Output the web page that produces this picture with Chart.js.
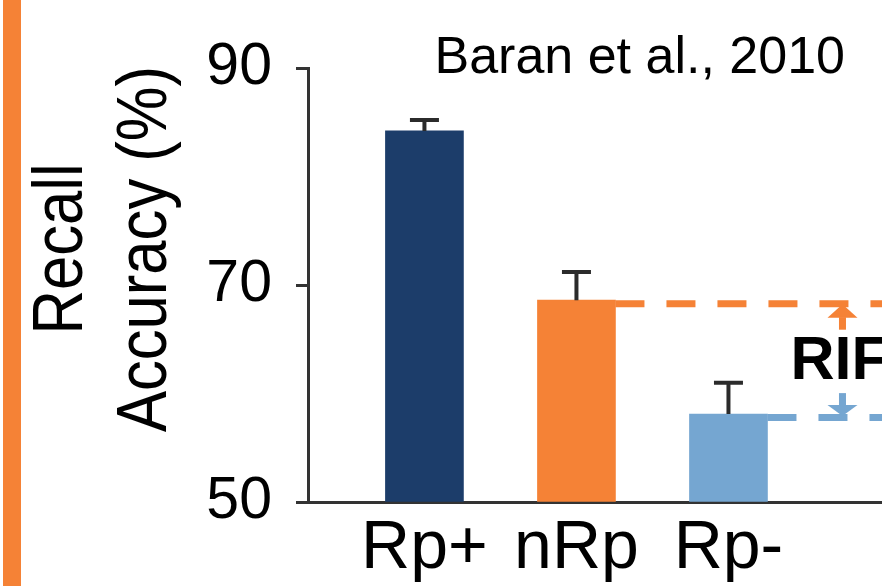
<!DOCTYPE html>
<html lang="en">
<head>
  <meta charset="UTF-8">
  <title>Recall accuracy</title>
  <script src="https://cdn.jsdelivr.net/npm/chart.js@4.4.1/dist/chart.umd.min.js"></script>
  <style>
    html, body { margin: 0; padding: 0; background: #fff; }
  </style>
</head>
<body>
  <canvas id="myChart" width="882" height="586"></canvas>
  <script>
    // data
    const categories = ['Rp+', 'nRp', 'Rp-']
    const positions = [1, 2, 3]
    const accuracy = [84.2, 68.6, 58.1]
    const errorTop = [85.2, 71.2, 61.0]
    const yTicks = [50, 70, 90]
    const barColors = ['#1c3d6a', '#f58236', '#75a6d1']

    const FONT = '"Liberation Sans", Arial, Helvetica, sans-serif'
    const ORANGE = '#f58236'
    const rifX = 3.75 // where the RIF arrows sit, in x units

    const overlay = {
      id: 'overlay',
      beforeDraw(chart) {
        const ctx = chart.ctx
        ctx.save()
        ctx.fillStyle = ORANGE
        ctx.fillRect(3, 0, 18, chart.height)
        ctx.restore()
      },
      afterDatasetsDraw(chart) {
        const ctx = chart.ctx
        const y = chart.scales.y
        const x = chart.scales.x
        const area = chart.chartArea
        const bars = chart.getDatasetMeta(0).data
        ctx.save()

        // error bars
        ctx.strokeStyle = '#2b2b2b'
        ctx.lineWidth = 4
        bars.forEach((el, i) => {
          const top = y.getPixelForValue(errorTop[i])
          ctx.beginPath()
          ctx.moveTo(el.x, el.y)
          ctx.lineTo(el.x, top)
          ctx.moveTo(el.x - 14.5, top)
          ctx.lineTo(el.x + 14.5, top)
          ctx.stroke()
        })

        // dashed reference lines from nRp and Rp-
        ctx.lineWidth = 7
        ctx.setLineDash([29, 22])
        ;[1, 2].forEach(i => {
          const el = bars[i]
          const ly = el.y + 3.5
          ctx.strokeStyle = barColors[i]
          ctx.beginPath()
          ctx.moveTo(el.x + el.width / 2, ly)
          ctx.lineTo(area.right + 20, ly)
          ctx.stroke()
        })
        ctx.setLineDash([])

        // arrows
        const ax = x.getPixelForValue(rifX)
        const yN = bars[1].y
        const yR = bars[2].y
        ctx.fillStyle = barColors[1]
        ctx.beginPath()
        ctx.moveTo(ax, yN + 4)
        ctx.lineTo(ax + 15, yN + 17.5)
        ctx.lineTo(ax - 15, yN + 17.5)
        ctx.closePath()
        ctx.fill()
        ctx.fillRect(ax - 3.5, yN + 17, 7, 12.5)

        ctx.fillStyle = barColors[2]
        ctx.beginPath()
        ctx.moveTo(ax, yR + 2)
        ctx.lineTo(ax + 15, yR - 9)
        ctx.lineTo(ax - 15, yR - 9)
        ctx.closePath()
        ctx.fill()
        ctx.fillRect(ax - 3.5, yR - 21, 7, 12.5)

        // RIF label
        ctx.fillStyle = '#000'
        ctx.font = 'bold 61px ' + FONT
        ctx.textAlign = 'left'
        ctx.textBaseline = 'alphabetic'
        ctx.fillText('RIF', ax - 52, (yN + yR) / 2 + 22)
        ctx.restore()
      },
      afterDraw(chart) {
        const ctx = chart.ctx
        ctx.save()
        ctx.fillStyle = '#000'
        ctx.font = '52px ' + FONT
        ctx.textAlign = 'right'
        ctx.textBaseline = 'alphabetic'
        ctx.fillText('Baran et al., 2010', 845, 73)

        // y axis title, two lines, rotated (a bit condensed like the original)
        ctx.font = '70px ' + FONT
        ctx.textAlign = 'center'
        ctx.textBaseline = 'middle'
        ;[['Recall', 63], ['Accuracy (%)', 147]].forEach(([t, cx]) => {
          ctx.save()
          ctx.translate(cx, 249)
          ctx.rotate(-Math.PI / 2)
          ctx.scale(0.88, 1)
          ctx.fillText(t, 0, 0)
          ctx.restore()
        })
        ctx.restore()
      }
    }

    const ctx = document.getElementById('myChart').getContext('2d')
    const chart = new Chart(ctx, {
      type: 'bar',
      data: {
        datasets: [{
          data: positions.map((p, i) => ({ x: p, y: accuracy[i] })),
          backgroundColor: barColors,
          base: 50,
          barThickness: 78,
          borderWidth: 0
        }]
      },
      options: {
        responsive: false,
        animation: false,
        layout: { padding: { left: 208, top: 68, right: 0, bottom: 0 } },
        plugins: {
          legend: { display: false },
          tooltip: { enabled: false },
          title: { display: false }
        },
        scales: {
          x: {
            type: 'linear',
            min: 0.234,
            max: 4.01,
            offset: false,
            afterBuildTicks: s => { s.ticks = positions.map(v => ({ value: v })) },
            afterFit: s => { s.height = 84 },
            ticks: {
              callback: v => categories[positions.indexOf(v)] ?? '',
              color: '#000',
              font: { family: FONT, size: 68, lineHeight: 1 },
              padding: 13,
              maxRotation: 0,
              autoSkip: false
            },
            grid: { display: false, drawTicks: false, offset: false },
            border: { display: true, color: '#333', width: 3 }
          },
          y: {
            min: 50,
            max: 90,
            afterBuildTicks: s => { s.ticks = yTicks.map(v => ({ value: v })) },
            afterFit: s => { s.width = 100 },
            ticks: {
              color: '#000',
              font: { family: FONT, size: 59 },
              padding: 24
            },
            grid: {
              drawOnChartArea: false,
              drawTicks: true,
              tickLength: 12,
              tickWidth: 3,
              tickColor: '#333'
            },
            border: { display: true, color: '#333', width: 3 }
          }
        }
      },
      plugins: [overlay]
    })
  </script>
</body>
</html>
